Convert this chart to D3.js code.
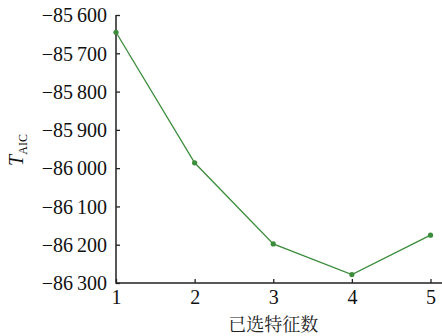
<!DOCTYPE html>
<html>
<head>
<meta charset="utf-8">
<script src="https://cdn.jsdelivr.net/npm/d3@7"></script>
<style>
  html, body { margin: 0; padding: 0; background: #fff; }
  svg { display: block; }
</style>
</head>
<body>
<svg id="chart" width="442" height="336"></svg>
<script>
// Number of selected features vs. AIC value
const featureCounts = [1, 2, 3, 4, 5];
const aicValues = [-85645, -85986, -86198, -86278, -86175];
const yTicks = [-85600, -85700, -85800, -85900, -86000, -86100, -86200, -86300];
const xLabel = "已选特征数";

const W = 442, H = 336;
const plotLeft = 116, plotTop = 15, plotBottom = 283, plotRight = 430.5;
const serif = "'Liberation Serif', 'Times New Roman', serif";

const svg = d3.select("#chart");

const x = d3.scaleLinear().domain([1, 5]).range([plotLeft, plotRight]);
const y = d3.scaleLinear().domain([-86300, -85600]).range([plotBottom, plotTop]);

const fmt = v => {
  const s = Math.abs(v).toString();
  return "\u2212" + s.slice(0, s.length - 3) + "\u2009" + s.slice(-3);
};

// axes (ticks point inward)
const yAxis = d3.axisRight(y).tickValues(yTicks).tickSize(4).tickFormat(fmt);
const gy = svg.append("g").attr("transform", `translate(${plotLeft},0)`).call(yAxis)
  .attr("font-family", serif).attr("font-size", 20);
gy.select(".domain").remove();
gy.selectAll(".tick line").attr("stroke", "#222").attr("stroke-width", 1.3);
gy.selectAll(".tick text")
  .attr("x", -9).attr("text-anchor", "end").attr("dy", "0.34em")
  .attr("fill", "#111");

const xAxis = d3.axisTop(x).tickValues(featureCounts).tickSize(4).tickFormat(d3.format("d"));
const gx = svg.append("g").attr("transform", `translate(0,${plotBottom})`).call(xAxis)
  .attr("font-family", serif).attr("font-size", 20);
gx.select(".domain").remove();
gx.selectAll(".tick line").attr("stroke", "#222").attr("stroke-width", 1.3);
gx.selectAll(".tick text")
  .attr("y", 7).attr("dy", "0.71em")
  .attr("fill", "#111");

// axis lines
svg.append("path")
  .attr("d", `M${plotLeft},${plotTop}V${plotBottom}H${W}`)
  .attr("fill", "none").attr("stroke", "#222").attr("stroke-width", 1.5);

// series
const line = d3.line().x((d, i) => x(featureCounts[i])).y(d => y(d));
svg.append("path")
  .datum(aicValues)
  .attr("d", line)
  .attr("fill", "none")
  .attr("stroke", "#3b8c3b")
  .attr("stroke-width", 1.3);

svg.selectAll("circle.pt")
  .data(aicValues)
  .join("circle")
  .attr("class", "pt")
  .attr("cx", (d, i) => x(featureCounts[i]))
  .attr("cy", d => y(d))
  .attr("r", 2.6)
  .attr("fill", "#3b8c3b");

// x title
svg.append("text")
  .attr("x", (plotLeft + plotRight) / 2)
  .attr("y", 331)
  .attr("text-anchor", "middle")
  .attr("font-family", "'Noto Serif CJK SC', 'Noto Sans CJK SC', serif")
  .attr("font-size", 18)
  .attr("fill", "#222")
  .text(xLabel);

// y title: T with subscript AIC
const yt = svg.append("text")
  .attr("transform", `translate(23,150) rotate(-90)`)
  .attr("text-anchor", "middle")
  .attr("font-family", serif)
  .attr("fill", "#111");
yt.append("tspan").attr("font-style", "italic").attr("font-size", 20).text("T");
yt.append("tspan").attr("font-size", 12).attr("dy", 4).text("AIC");
</script>
</body>
</html>
